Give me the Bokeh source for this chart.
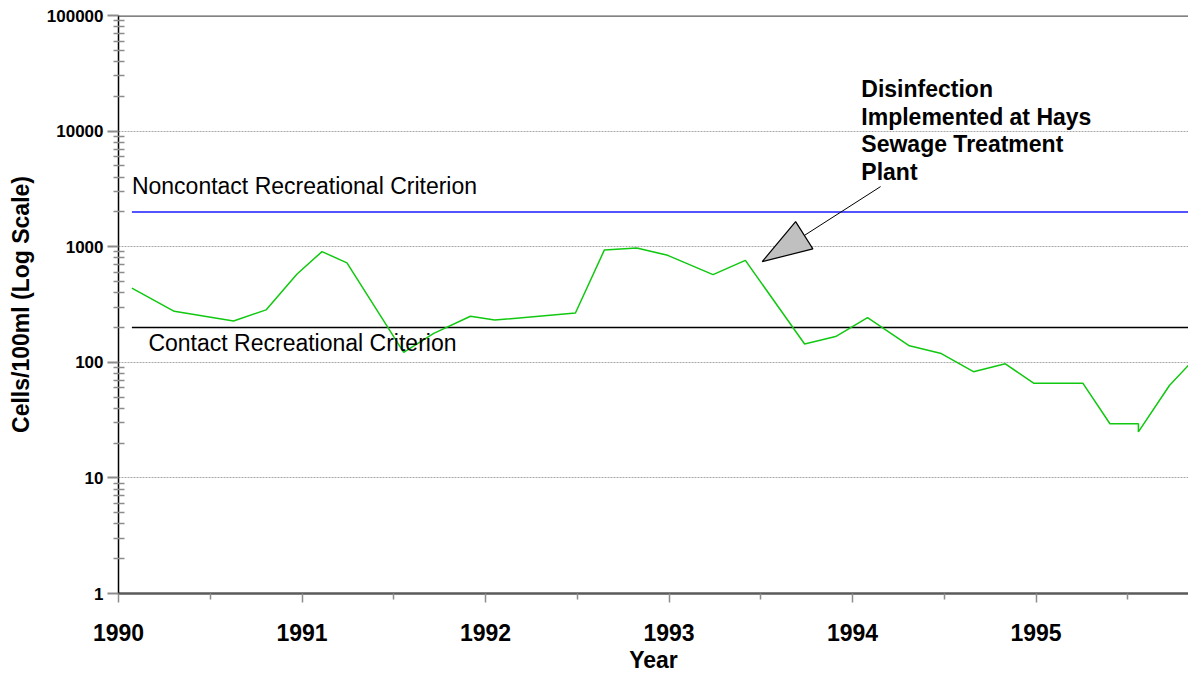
from bokeh.plotting import figure
from bokeh.models import Range1d, FixedTicker, NumeralTickFormatter, Span, Label
from bokeh.embed import file_html
from bokeh.resources import INLINE

# ---- data (decimal year, cells/100ml) ----
dates = [1990.073, 1990.304, 1990.627, 1990.804, 1990.973, 1991.109, 1991.245,
         1991.554, 1991.718, 1991.918, 1992.050, 1992.490, 1992.648, 1992.824,
         1992.993, 1993.240, 1993.416, 1993.739, 1993.908, 1994.082, 1994.310,
         1994.484, 1994.659, 1994.833, 1994.987, 1995.255, 1995.403, 1995.558,
         1995.558, 1995.727, 1995.830]
cells = [438, 276, 228, 284, 581, 907, 724,
         122, 178, 250, 232, 267, 938, 976,
         842, 573, 762, 144, 167, 243, 139,
         119, 83, 97, 66, 66, 29.4, 29.4,
         25, 63, 94]

noncontact_criterion = 2000
contact_criterion = 200
criteria_start = 1990.073

year_ticks = [1990, 1991, 1992, 1993, 1994, 1995]
half_year_ticks = [1990.5, 1991.5, 1992.5, 1993.5, 1994.5, 1995.5]
decade_ticks = [1, 10, 100, 1000, 10000, 100000]

X_START, X_END = 1990.0, 1995.831
Y_START, Y_END = 1, 100000

FONT = "Liberation Sans"

p = figure(width=1188, height=675, y_axis_type="log",
           x_range=Range1d(X_START, X_END), y_range=Range1d(Y_START, Y_END),
           output_backend="svg", toolbar_location=None,
           min_border_left=118, min_border_right=0, min_border_top=15, min_border_bottom=82)
p.outline_line_color = None
p.background_fill_color = "white"
p.border_fill_color = "white"

# grid
p.xgrid.visible = False
p.ygrid.ticker = FixedTicker(ticks=[10, 100, 1000, 10000])
p.ygrid.grid_line_color = "#a8a8a8"
p.ygrid.grid_line_dash = "2 1"
p.ygrid.grid_line_width = 1

# top frame line
p.add_layout(Span(location=Y_END, dimension="width", line_color="#5a5a5a", line_width=2.5))

# x axis
xa = p.xaxis[0]
xa.ticker = FixedTicker(ticks=year_ticks, minor_ticks=half_year_ticks)
xa.axis_line_color = "#5a5a5a"
xa.axis_line_width = 2.5
xa.major_tick_line_color = "#8c8c8c"
xa.major_tick_line_width = 1.5
xa.major_tick_out = 9
xa.major_tick_in = 0
xa.minor_tick_line_color = "#8c8c8c"
xa.minor_tick_line_width = 1.5
xa.minor_tick_out = 6
xa.minor_tick_in = 0
xa.major_label_text_font = FONT
xa.major_label_text_font_style = "bold"
xa.major_label_text_font_size = "23px"
xa.major_label_text_color = "black"
xa.major_label_standoff = 21
xa.axis_label = "Year"
xa.axis_label_text_font = FONT
xa.axis_label_text_font_style = "bold"
xa.axis_label_text_font_size = "23px"
xa.axis_label_text_color = "black"
xa.axis_label_standoff = 3

# y axis
ya = p.yaxis[0]
ya.ticker = FixedTicker(ticks=decade_ticks,
                        minor_ticks=[m * 10 ** e for e in range(5) for m in range(2, 10)])
ya.formatter = NumeralTickFormatter(format="0")
ya.axis_line_color = "black"
ya.axis_line_width = 1.5
ya.major_tick_line_color = "#8c8c8c"
ya.major_tick_line_width = 2
ya.major_tick_out = 11
ya.major_tick_in = 0
ya.minor_tick_line_color = "#8c8c8c"
ya.minor_tick_line_width = 1.5
ya.minor_tick_out = 5
ya.minor_tick_in = 6
ya.major_label_text_font = FONT
ya.major_label_text_font_style = "bold"
ya.major_label_text_font_size = "17px"
ya.major_label_text_color = "black"
ya.major_label_standoff = 4
ya.axis_label = "Cells/100ml (Log Scale)"
ya.axis_label_text_font = FONT
ya.axis_label_text_font_style = "bold"
ya.axis_label_text_font_size = "23px"
ya.axis_label_text_color = "black"
ya.axis_label_standoff = 10

# criteria lines
p.line([criteria_start, X_END], [noncontact_criterion, noncontact_criterion],
       line_color="#1a1aff", line_width=1.5)
p.line([criteria_start, X_END], [contact_criterion, contact_criterion],
       line_color="black", line_width=1.5)

p.add_layout(Label(x=1990.073, y=3357, text="Noncontact Recreational Criterion",
                   text_font=FONT, text_font_size="23px", text_color="black",
                   text_baseline="alphabetic", text_align="left"))
p.add_layout(Label(x=1990.163, y=145.8, text="Contact Recreational Criterion",
                   text_font=FONT, text_font_size="23px", text_color="black",
                   text_baseline="alphabetic", text_align="left"))

# data line
p.line(dates, cells, line_color="#10c810", line_width=1.5)

# annotation
annot_lines = ["Disinfection", "Implemented at Hays", "Sewage Treatment", "Plant"]
annot_y = [23030, 13310, 7695, 4448]
for t, yy in zip(annot_lines, annot_y):
    p.add_layout(Label(x=1994.048, y=yy, text=t, text_font=FONT, text_font_size="23px",
                       text_font_style="bold", text_color="black",
                       text_baseline="alphabetic", text_align="left"))

p.line([1994.153, 1993.739], [3311, 1255], line_color="black", line_width=1)
p.patch([1993.508, 1993.690, 1993.784], [743, 1649, 957],
        fill_color="#c0c0c0", line_color="black", line_width=1.2)

open("out.html", "w").write(file_html(p, INLINE))
